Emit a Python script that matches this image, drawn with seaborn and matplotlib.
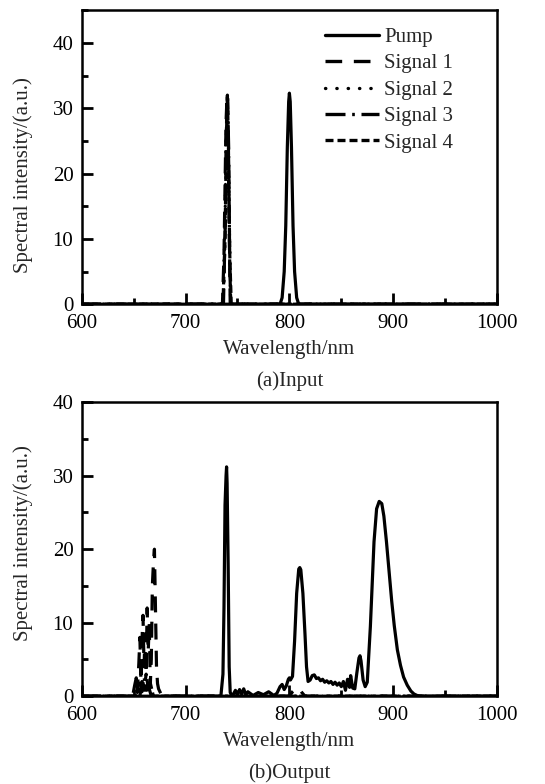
import numpy as np
import pandas as pd
import matplotlib
matplotlib.use("Agg")
import matplotlib.pyplot as plt
import seaborn as sns
from matplotlib.ticker import MultipleLocator

# ---- data ------------------------------------------------------------------
# (a) Input spectra
in_pump_x = [600, 791, 793, 795, 796.5, 798, 799.3, 800, 800.8, 802, 803.5, 805, 807, 809, 1000]
in_pump_y = [0, 0, 1, 5, 12, 24, 31, 32.3, 31, 24, 12, 5, 1, 0, 0]

in_sig1_x = [600, 735.5, 737, 738, 739, 740, 741, 742, 743, 1000]
in_sig1_y = [0, 0, 7.5, 18, 28, 32, 26, 12, 0, 0]
in_sig2_x = [600, 736, 738, 739, 740.2, 741, 742, 743.5, 1000]
in_sig2_y = [0, 0, 12, 26, 32.2, 27, 14, 0, 0]
in_sig3_x = [600, 736.5, 738.5, 739.5, 740.5, 741.5, 742.5, 743.5, 1000]
in_sig3_y = [0, 0, 14, 27, 31.5, 24, 6.5, 0, 0]
in_sig4_x = [600, 736, 738, 739.5, 740.3, 741.2, 742.5, 744, 1000]
in_sig4_y = [0, 0, 10, 28, 32, 25, 8, 0, 0]

# (b) Output spectra
out_pump_x = [600, 734, 736, 737, 738, 739, 739.5, 740, 741, 742, 743, 745,
              748, 750, 752, 754, 756, 758, 760, 765, 770, 775, 780, 785, 788,
              791, 793, 795, 797, 799, 800, 801, 803, 805, 807, 809, 810, 811,
              813, 815, 816.5, 818, 820, 822, 824, 826, 828, 830, 832, 834, 836,
              838, 840, 842, 844, 846, 848, 850, 852, 854, 856, 858, 859, 861,
              863, 865, 867, 868, 869, 871, 873, 875, 878, 881.5, 884, 886.5,
              889, 891, 893.5, 896, 898.5, 901, 904, 907, 910, 913.5, 917, 920,
              923, 926, 1000]
out_pump_y = [0, 0, 3, 12, 26, 30, 31.2, 29, 18, 4, 0.5, 0,
              0.8, 0.2, 0.9, 0.3, 1.0, 0.2, 0.6, 0.1, 0.5, 0.2, 0.6, 0.1, 0.4,
              1.3, 1.6, 0.9, 1.4, 2.3, 2.5, 2.2, 2.7, 7.5, 14, 17.3, 17.5, 17.2,
              14, 8.5, 4, 2, 2.2, 2.8, 2.9, 2.4, 2.5, 2.1, 2.3, 1.9, 2.1,
              1.8, 2.0, 1.6, 1.9, 1.5, 1.8, 1.3, 2.0, 0.8, 2.3, 1.2, 2.8, 1.1,
              1.0, 3.2, 5.2, 5.5, 4.8, 2.2, 1.3, 1.9, 9.5, 21, 25.5, 26.5,
              26.2, 24.5, 21, 17, 13, 9.6, 6.3, 4.2, 2.6, 1.5, 0.7, 0.3,
              0.1, 0, 0]

out_sig1_x = [600, 649, 651, 652.5, 653.5, 655, 656, 657, 658, 659, 660, 661,
              662, 663, 664, 665, 666, 667, 668, 669, 670, 671, 672, 673, 674,
              676, 678, 680, 800, 803, 806, 809, 812, 815, 1000]
out_sig1_y = [0, 0, 1.5, 2.5, 0.5, 4.5, 8, 2, 7.5, 11, 4, 8.5, 3, 12, 6,
              10, 1.5, 5, 15, 18, 20, 12, 4, 1.7, 1.0, 0.4, 0.2, 0, 0, 0.6,
              1.0, 1.1, 0.5, 0, 0]
out_sig2_x = [600, 652, 655, 657, 659, 661, 663, 666, 1000]
out_sig2_y = [0, 0, 1.2, 0.3, 1.8, 0.4, 1.0, 0, 0]
out_sig3_x = [600, 654, 656, 658, 660, 662, 664, 667, 1000]
out_sig3_y = [0, 0, 1.8, 0.6, 2.6, 0.8, 1.5, 0, 0]
out_sig4_x = [600, 656, 658, 660, 662, 664, 666, 669, 1000]
out_sig4_y = [0, 0, 2.0, 0.8, 3.0, 1.2, 1.8, 0, 0]

series_names = ["Pump", "Signal 1", "Signal 2", "Signal 3", "Signal 4"]

# ---- style -------------------------------------------------------------------
sns.set_theme(style="ticks")
plt.rcParams.update({
    "font.family": ["Liberation Serif", "DejaVu Serif"],
    "axes.linewidth": 1.8,
    "axes.edgecolor": "black",
    "xtick.direction": "in",
    "ytick.direction": "in",
    "xtick.color": "black",
    "ytick.color": "black",
    "xtick.labelsize": 15,
    "ytick.labelsize": 15,
    "axes.labelsize": 15,
})

styles = {
    "Pump": "-",
    "Signal 1": (0, (5, 3.5)),
    "Signal 2": (0, (0.1, 3.3)),
    "Signal 3": (0, (6, 2, 0.8, 2)),
    "Signal 4": (0, (2.4, 1.2)),
}


def draw_panel(ax, data, ymax, caption, label_y, legend=False):
    for name in series_names:
        x, y = data[name]
        df = pd.DataFrame({"Wavelength": x, "Intensity": y})
        sns.lineplot(data=df, x="Wavelength", y="Intensity", ax=ax,
                     color="black", linewidth=2.3, estimator=None,
                     linestyle=styles[name],
                     label=name if legend else None)
        if name == "Signal 2":
            ax.lines[-1].set_dash_capstyle("round")
    ax.set_xlim(600, 1000)
    ax.set_ylim(0, ymax)
    ax.xaxis.set_major_locator(MultipleLocator(100))
    ax.xaxis.set_minor_locator(MultipleLocator(50))
    ax.yaxis.set_major_locator(MultipleLocator(10))
    ax.yaxis.set_minor_locator(MultipleLocator(5))
    ax.tick_params(which="major", length=8, width=2, top=False, right=False)
    ax.tick_params(axis="x", which="major", pad=7)
    ax.tick_params(axis="y", which="major", pad=6)
    ax.tick_params(which="minor", length=4, width=2, top=False, right=False)
    ax.set_yticks([0, 10, 20, 30, 40])
    ax.set_xlabel("Wavelength/nm", labelpad=5)
    ax.set_ylabel("Spectral intensity/(a.u.)")
    ax.yaxis.set_label_coords(-0.118, label_y)
    ax.text(0.5, -0.262, caption, transform=ax.transAxes, ha="center",
            va="center", fontsize=15)
    for s in ax.spines.values():
        s.set_visible(True)
        s.set_linewidth(1.8)
    if legend:
        leg = ax.legend(loc="upper right", frameon=False, fontsize=15,
                        handlelength=2.6, handletextpad=0.25, labelspacing=0.33,
                        borderaxespad=0.0, bbox_to_anchor=(0.915, 0.97))
        for line, name in zip(leg.get_lines(), series_names):
            line.set_linewidth(2.4)
            if name == "Signal 2":
                line.set_dash_capstyle("round")
    else:
        if ax.get_legend() is not None:
            ax.get_legend().remove()


fig = plt.figure(figsize=(5.45, 7.84), dpi=100)
ax_in = fig.add_axes([0.150, 0.612, 0.762, 0.375])
ax_out = fig.add_axes([0.150, 0.112, 0.762, 0.375])

input_data = {
    "Pump": (in_pump_x, in_pump_y),
    "Signal 1": (in_sig1_x, in_sig1_y),
    "Signal 2": (in_sig2_x, in_sig2_y),
    "Signal 3": (in_sig3_x, in_sig3_y),
    "Signal 4": (in_sig4_x, in_sig4_y),
}
output_data = {
    "Pump": (out_pump_x, out_pump_y),
    "Signal 1": (out_sig1_x, out_sig1_y),
    "Signal 2": (out_sig2_x, out_sig2_y),
    "Signal 3": (out_sig3_x, out_sig3_y),
    "Signal 4": (out_sig4_x, out_sig4_y),
}

draw_panel(ax_in, input_data, 45, "(a)Input", 0.44, legend=True)
draw_panel(ax_out, output_data, 40, "(b)Output", 0.52)

fig.savefig("out.png", dpi=100)
